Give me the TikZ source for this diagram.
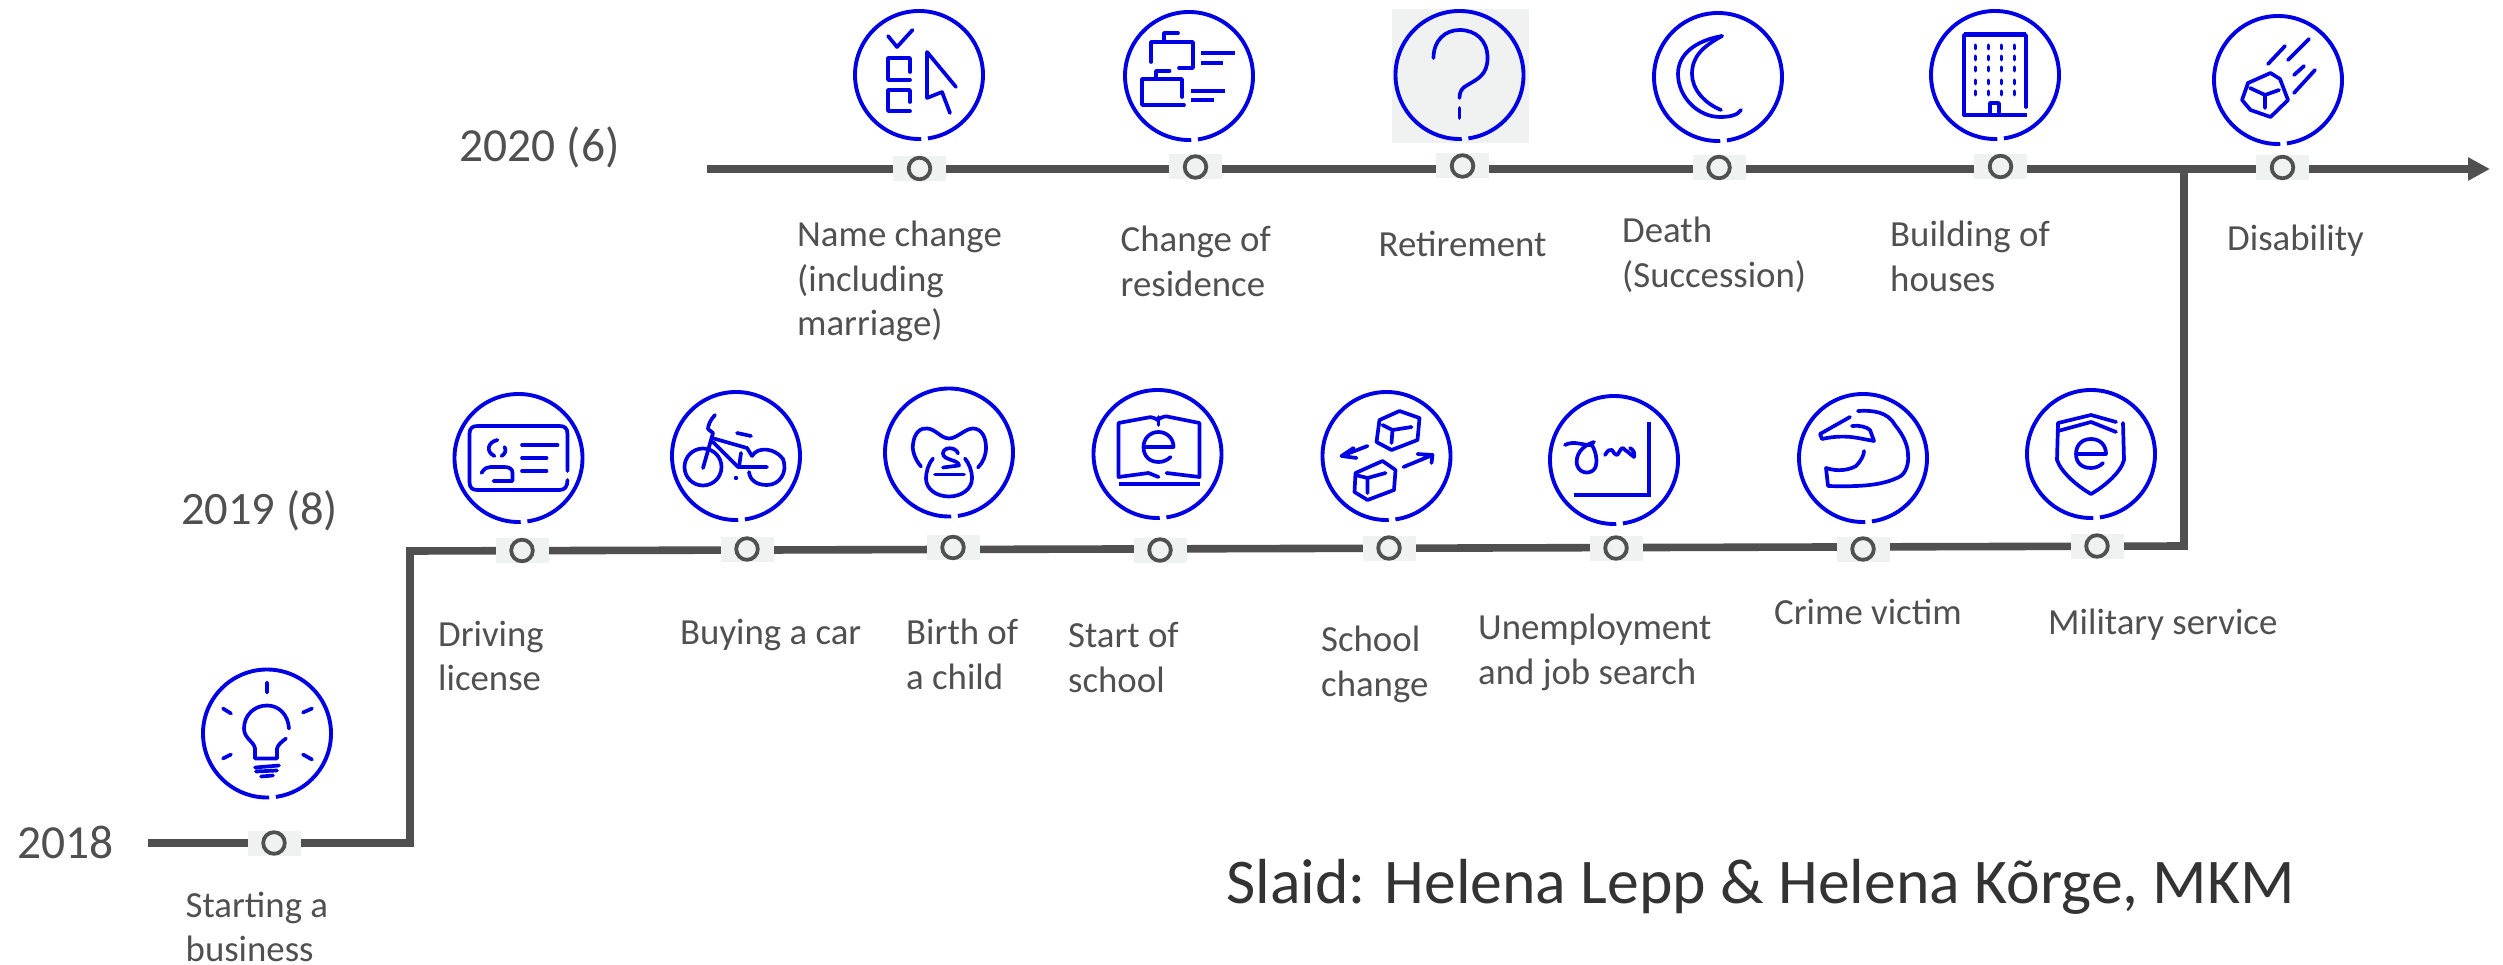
\documentclass[tikz,border=0pt]{standalone}
\usepackage{fontspec}
\setmainfont{Carlito}
\usetikzlibrary{arrows.meta}
\definecolor{ink}{HTML}{0000E4}
\definecolor{tlgray}{HTML}{505050}
\definecolor{boxgray}{HTML}{F0F1F1}
\definecolor{slaidgray}{HTML}{333333}
\tikzset{
  tline/.style={draw=tlgray,line width=7.6pt,line join=miter},
  markbox/.style={rectangle,fill=boxgray,minimum width=53pt,minimum height=25pt,inner sep=0pt},
  markring/.style={draw=tlgray,line width=3.8pt,fill=boxgray},
  ic/.style={draw=ink,line width=3.7pt,line cap=round,line join=round},
  icthick/.style={draw=ink,line width=4.6pt,line cap=butt,line join=miter},
  lab/.style={anchor=north west,inner sep=0pt,align=left,text=tlgray,yshift=24.5pt,
    font=\fontsize{36.8}{44.8}\selectfont,execute at begin node=\rule{0pt}{26pt}},
  yearlab/.style={anchor=base west,inner sep=0pt,text=tlgray,font=\fontsize{46.5}{55}\selectfont},
}
\newcommand{\mk}[3]{\node[markbox] (#1) at (#2,#3) {};\draw[markring] (#1) circle[radius=10.8pt];}
\newcommand{\ring}{\draw[draw=ink,line width=3.9pt] (278:64pt) arc[start angle=278,end angle=632,radius=64pt];}
\newenvironment{iconat}[2]{\begin{scope}[shift={(#1,#2)}]\ring}{\end{scope}}
\begin{document}
\begin{tikzpicture}[x=1pt,y=-1pt]
\useasboundingbox (0,0) rectangle (2503,965);
% grey patch behind the retirement icon
\fill[boxgray] (1392,9) rectangle (1529,143);
% timeline coordinates
\coordinate (a0) at (148,843);
\coordinate (a1) at (410,843);
\coordinate (a2) at (410,551);
\coordinate (a3) at (2184,546);
\coordinate (a4) at (2184,169);
\coordinate (b0) at (707,169);
\coordinate (b1) at (2490,169);
\draw[tline] (a0) -- (a1) -- (a2) -- (a3) -- (a4);
\draw[tline,-{Triangle[length=22pt,width=22pt]}] (b0) -- (b1);
% markers
\mk{m0}{274}{843}
\mk{m1}{522}{550.5}
\mk{m2}{747}{549}
\mk{m3}{953}{547.5}
\mk{m4}{1160}{550}
\mk{m5}{1389}{548}
\mk{m6}{1616}{548}
\mk{m7}{1863}{549}
\mk{m8}{2097}{546}
\mk{m9}{919.5}{168.5}
\mk{m10}{1195.5}{167}
\mk{m11}{1462.5}{166}
\mk{m12}{1719}{167.5}
\mk{m13}{2000.5}{166.5}
\mk{m14}{2282.5}{167.5}
% bulb
\begin{iconat}{267}{733.5}
\draw[ic] (0,-51)--(0,-41) (-44,-25)--(-36,-20) (36,-21)--(45,-25) (-44,25)--(-36,21) (36,21)--(45,26);
\draw[ic] (22,-5) .. controls (21,-19) and (12,-28) .. (0,-28) .. controls (-13,-28) and (-23,-18) .. (-23,-5) .. controls (-23,5) and (-13,8) .. (-12,15) -- (-12,25) -- (10,25) -- (10,15) .. controls (11,11) and (15,8) .. (19,5);
\draw[ic] (-12,34)--(12,32) (-11,38)--(10,37) (-6,43)--(6,42);
\end{iconat}
% license
\begin{iconat}{518.5}{458}
\draw[ic] (49,13) -- (49,-24) .. controls (49,-30) and (46,-32) .. (41,-32) -- (-41,-32) .. controls (-46,-32) and (-49,-30) .. (-49,-24) -- (-49,24) .. controls (-49,30) and (-46,32) .. (-41,32) -- (41,32) .. controls (46,32) and (49,29) .. (49,22);
\draw[ic] (-21,-18) .. controls (-31,-16) and (-33,-6) .. (-24,-2) (-14,-11) .. controls (-12,-8) and (-13,-4) .. (-17,-2);
\draw[ic] (-37,15) .. controls (-34,10) and (-31,9) .. (-28,9) -- (-14,9) .. controls (-9,9) and (-6,11) .. (-6,15) -- (-6,23) -- (-25,23);
\draw[ic] (3.5,-13)--(39,-13) (3.5,0)--(28,0) (3.5,13)--(28,13);
\end{iconat}
% bike
\begin{iconat}{736}{456}
\draw[ic] (-33,11) circle[radius=18.5pt];
\draw[ic] (16,0) .. controls (22,-10) and (39,-8) .. (47,3) .. controls (52,16) and (44,29) .. (31,29) .. controls (20,29) and (14,24) .. (13,16);
\draw[ic] (-21,-41) .. controls (-26,-36) and (-28,-30) .. (-28,-27) -- (-23,-23) -- (-33,12);
\draw[ic] (-24,-18) -- (11,-8) -- (16,0);
\draw[ic] (-23,-14) -- (2,11) -- (31,11);
\draw[ic] (5,-3) -- (3,11);
\draw[ic] (1,-23)--(15,-20);
\fill[ink] (0,22) circle[radius=2.2pt];
\end{iconat}
% pacifier
\begin{iconat}{949}{452.5}
\draw[ic] (-28,14) .. controls (-35,6) and (-37,-4) .. (-36,-8) .. controls (-35,-20) and (-28,-25) .. (-22,-24) .. controls (-14,-24) and (-8,-14) .. (0,-14) .. controls (8,-14) and (16,-24) .. (24,-24) .. controls (32,-24) and (37,-16) .. (37,-5) .. controls (37,3) and (34,10) .. (29,15);
\draw[ic] (-16,6) .. controls (-21,12) and (-23,20) .. (-23,26) .. controls (-23,37) and (-12,44) .. (0,44) .. controls (12,44) and (23,37) .. (23,26) .. controls (23,18) and (20,11) .. (16,6);
\draw[ic] (9,1) .. controls (7,-6) and (-6,-6) .. (-6,1) .. controls (-6,8) and (10,7) .. (10,13) -- (-6,15);
\draw[ic] (-14,22)--(15,22);
\end{iconat}
% book
\begin{iconat}{1157.5}{454}
\draw[ic] (0,-34) .. controls (-6,-38) and (-9,-37) .. (-12,-36) -- (-39,-31) -- (-39,23) -- (-9,19) -- (1,23);
\draw[ic] (0,-34) .. controls (5,-38) and (9,-38) .. (12,-37) -- (42,-31) -- (42,23) -- (9,19);
\draw[ic] (1,-37)--(1,-29);
\draw[icthick] (-39,30)--(42,30);
\draw[ic] (-14,-7)--(16,-7) .. controls (16,-16) and (9,-22) .. (1,-22) .. controls (-8,-22) and (-14,-15) .. (-14,-7) .. controls (-14,2) and (-8,8) .. (1,8) .. controls (6,8) and (10,6) .. (13,3);
\end{iconat}
% boxes
\begin{iconat}{1386.5}{456}
\draw[ic] (13,-45)--(33,-38)--(31,-16)--(5,-6)--(-10,-14)--(-7,-36)--cycle;
\draw[ic] (-4,-31)--(6,-26)--(25,-29) (6,-26)--(5,-13);
\draw[ic] (-4,5)--(9,14)--(7.5,34)--(-19,44)--(-32,36)--(-31,17)--cycle;
\draw[ic] (-31,19)--(-19,22)--(-1,17) (-19,22)--(-19,37);
\draw[ic] (-19,-10)--(-45,0) (-33,-8)--(-45,0)--(-30,2);
\draw[ic] (17,11)--(46,-1) (31,-2)--(46,-1)--(45,7);
\end{iconat}
% signature
\begin{iconat}{1614}{460}
\draw[icthick,line width=4pt] (35,-38)--(35,35)--(-40,35);
\draw[ic] (-49,-15) .. controls (-40,-20) and (-30,-14) .. (-22,-15) .. controls (-18,-8) and (-16,2) .. (-19,8) .. controls (-22,14) and (-34,15) .. (-37,5) .. controls (-39,-4) and (-33,-14) .. (-20,-18);
\draw[ic] (-9,-5) .. controls (-6,-10) and (-4,-11) .. (-2,-10) .. controls (0,-7) and (1,-5) .. (3,-5) .. controls (5,-6) and (6,-12) .. (9,-12) .. controls (11,-10) and (12,-9) .. (14,-8) .. controls (17,-5) and (18,-5) .. (20,-3) .. controls (21,-6) and (20,-10) .. (16,-12);
\end{iconat}
% helmet
\begin{iconat}{1863}{458}
\draw[ic] (-5,-47) .. controls (10,-48) and (25,-46) .. (32,-33) .. controls (41,-22) and (45,-12) .. (45,-3) .. controls (46,5) and (43,16) .. (36,19) .. controls (20,27) and (0,29) .. (-35,28) -- (-37,10) .. controls (-25,14) and (-14,12) .. (-7,8) .. controls (-2,3) and (1,-3) .. (1,-7);
\draw[ic] (-13,-41) -- (-43,-24) -- (-41,-19) .. controls (-28,-22) and (-16,-22) .. (-5,-20) -- (11,-17) -- (7,-28) .. controls (4,-31) and (-4,-33) .. (-11,-32);
\end{iconat}
% shield
\begin{iconat}{2091}{454}
\draw[ic] (-33,-31) -- (-34,6) .. controls (-30,18) and (-14,32) .. (0,40) .. controls (14,32) and (30,18) .. (33,6) -- (32,-31);
\draw[ic] (-33,-31) -- (0,-39) -- (25,-32) (-33,-23) -- (0,-32) -- (25,-22);
\draw[ic] (-15,0)--(15,0) .. controls (15,-9) and (9,-15) .. (0,-15) .. controls (-9,-15) and (-15,-9) .. (-15,0) .. controls (-15,9) and (-9,14) .. (0,14) .. controls (5,14) and (9,12) .. (12,9);
\end{iconat}
% checklist
\begin{iconat}{919}{75}
\draw[ic] (-31,-39)--(-22,-28)--(-6.5,-45);
\draw[ic] (-9,-3)--(-9,-17)--(-31,-17)--(-31,5)--(-9,5);
\draw[ic] (-9,27)--(-9,15)--(-31,15)--(-31,36)--(-9,36);
\draw[ic] (37,12)--(8,-23)--(8,23)--(23,17)--(31,38);
\end{iconat}
% folders
\begin{iconat}{1189}{76}
\draw[ic] (-38,-14)--(-38,-34)--(4,-34)--(4,-8)--(-10,-8) (-25,-34)--(-25,-43)--(-11,-43);
\draw[icthick] (12,-23)--(45.5,-23) (12,-13)--(34,-13);
\draw[ic] (-7,21)--(-7,3)--(-47,3)--(-47,29)--(-5,29) (-33,3)--(-33,-5)--(-19.5,-5);
\draw[icthick] (2,15)--(36,15) (2,24)--(25,24);
\end{iconat}
% question
\begin{iconat}{1459.5}{75}
\draw[ic] (-26,-17) .. controls (-26,-35) and (-14,-45) .. (0,-45) .. controls (16,-45) and (28,-35) .. (28,-17) .. controls (28,0) and (18,4) .. (8,10) .. controls (2,13) and (0,17) .. (0,23);
\draw[ic] (0,33)--(0,43);
\end{iconat}
% moon
\begin{iconat}{1718}{77}
\draw[ic] (4,-41) .. controls (-24,-36) and (-40,-22) .. (-40,-3) .. controls (-40,20) and (-20,40) .. (2,40) .. controls (12,40) and (20,38) .. (23,33);
\draw[ic] (4,-41) .. controls (-16,-30) and (-26,-20) .. (-26,-3) .. controls (-26,12) and (-14,26) .. (3,33);
\end{iconat}
% building
\begin{iconat}{1995}{75}
\draw[icthick] (-31,-40.5)--(31,-40.5);
\draw[ic] (31,32)--(31,-40)--(-31,-40)--(-31,40);
\draw[icthick] (-32,40)--(32,40);
\draw[ic] (-5,40)--(-5,28)--(4,28)--(4,37);
\foreach \yy in {-28,-17,-6,7,18}{\foreach \xx in {-20,-6.5,6.5,19.5}{\draw[ic,line width=3pt] (\xx,\yy-2)--(\xx,\yy+2);}}
\end{iconat}
% meteor
\begin{iconat}{2278}{80}
\draw[ic] (-10,-16)--(7,-34) (10,-20)--(31,-41) (16,-5)--(26,-14) (16,13)--(37,-10);
\draw[ic] (-7.5,-7)--(2,-1)--(10,20)--(-7.5,37)--(-27.5,30)--(-36,20)--(-30,3)--cycle;
\draw[ic] (-28,8)--(-13,15)--(1,10) (-13,15)--(-13,28);
\end{iconat}
% years
\node[yearlab,font=\fontsize{47.5}{55}\selectfont] (y2018) at (17,858) {2018};
\node[yearlab] (y2019) at (181,524) {2019 (8)};
\node[yearlab,font=\fontsize{47.5}{55}\selectfont] (y2020) at (459.5,162) {2020 (6)};
% labels
\node[lab] (t0) at (185.5,916) {Starting a\\business};
\node[lab] (t1) at (438,645) {Driving\\license};
\node[lab] (t2) at (680,643) {Buying a car};
\node[lab] (t3) at (906,643) {Birth of\\a child};
\node[lab] (t4) at (1068,647) {Start of\\school};
\node[lab] (t5) at (1321,650) {School\\change};
\node[lab] (t6) at (1478,638) {Unemployment\\and job search};
\node[lab] (t7) at (1774,623) {Crime victim};
\node[lab] (t8) at (2048,633) {Military service};
\node[lab] (t9) at (797,245) {Name change\\(including\\marriage)};
\node[lab] (t10) at (1120.5,250) {Change of\\residence};
\node[lab] (t11) at (1378.5,255) {Retirement};
\node[lab] (t12) at (1622,241.7) {Death\\(Succession)};
\node[lab] (t13) at (1890,245) {Building of\\houses};
\node[lab] (t14) at (2227,249) {Disability};
\node[anchor=base west,inner sep=0pt,text=slaidgray,font=\fontsize{63.7}{70}\selectfont] (slaid) at (1226,903) {Slaid: Helena Lepp \& Helena Kõrge, MKM};
\end{tikzpicture}
\end{document}
